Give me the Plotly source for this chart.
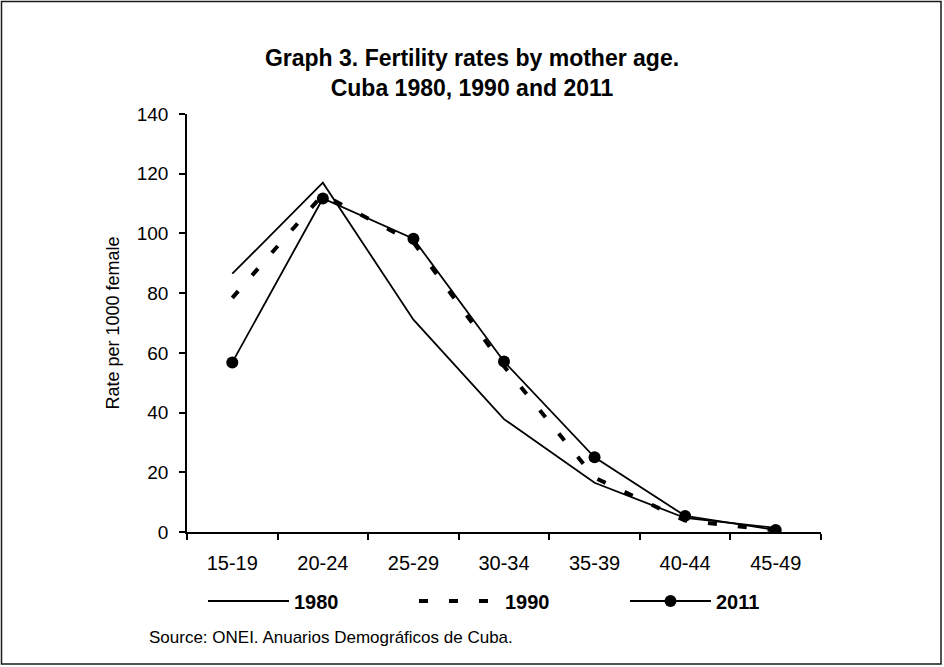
import plotly.graph_objects as go

age_groups = ["15-19", "20-24", "25-29", "30-34", "35-39", "40-44", "45-49"]
rates_1980 = [86.5, 117.0, 71.1, 37.8, 16.5, 4.7, 1.4]
rates_1990 = [78.4, 113.0, 97.0, 55.5, 18.2, 3.8, 0.5]
rates_2011 = [56.8, 111.7, 98.2, 57.1, 25.0, 5.4, 0.7]
y_ticks = [0, 20, 40, 60, 80, 100, 120, 140]

W, H = 944, 667
L, R, T, B = 187, 123, 114, 135
pw, ph = W - L - R, H - T - B

def px(x):
    return (x - L) / pw

def py(y):
    return (H - B - y) / ph

fig = go.Figure()
fig.add_trace(go.Scatter(x=age_groups, y=rates_1980, name="1980", mode="lines",
                         line=dict(color="black", width=1.8)))
fig.add_trace(go.Scatter(x=age_groups, y=rates_1990, name="1990", mode="lines",
                         line=dict(color="black", width=4, dash="9px,21px")))
fig.add_trace(go.Scatter(x=age_groups, y=rates_2011, name="2011", mode="lines+markers",
                         line=dict(color="black", width=1.8),
                         marker=dict(color="black", size=12)))

font = "Liberation Sans, Arial, sans-serif"
fig.update_layout(
    width=W, height=H,
    margin=dict(l=L, r=R, t=T, b=B),
    paper_bgcolor="white", plot_bgcolor="white",
    font=dict(family=font, color="black", size=19),
    title=dict(text="<b>Graph 3. Fertility rates by mother age.<br>Cuba 1980, 1990 and 2011</b>",
               x=0.5, xanchor="center", y=1 - 66 / H, yanchor="middle",
               font=dict(size=23, family=font, color="black")),
    showlegend=True,
    legend=dict(orientation="h", x=px(203), xanchor="left", y=py(601), yanchor="middle",
                font=dict(size=20, family=font, color="black", weight="bold"),
                itemwidth=81, bgcolor="rgba(0,0,0,0)", traceorder="normal",
                entrywidth=115),
    xaxis=dict(type="category", tickson="boundaries", ticks="outside", ticklen=6,
               tickwidth=1.5, tickcolor="black", showline=True, linecolor="black",
               linewidth=1.5, showgrid=False, zeroline=False, ticklabelstandoff=12,
               range=[-0.5, 6.5], tickfont=dict(size=20, family=font)),
    yaxis=dict(range=[0, 140], tickvals=y_ticks, ticks="outside", ticklen=6,
               tickwidth=1.5, tickcolor="black", showline=True, linecolor="black",
               linewidth=1.5, showgrid=False, zeroline=False, ticklabelstandoff=7,
               title=dict(text="Rate per 1000 female", font=dict(size=18, family=font),
                          standoff=12),
               tickfont=dict(size=19, family=font)),
)

fig.add_annotation(text="Source: ONEI. Anuarios Demográficos de Cuba.",
                   xref="paper", yref="paper", x=px(147), y=py(637),
                   xanchor="left", yanchor="middle", showarrow=False,
                   font=dict(size=17, family=font, color="black"))

fig.add_shape(type="rect", xref="paper", yref="paper",
              x0=px(1.5), x1=px(941), y0=py(664), y1=py(1.5),
              line=dict(color="#1a1a1a", width=1.5), fillcolor="rgba(0,0,0,0)",
              layer="below")

fig.write_html("out.html", post_script="document.body.style.margin='0';",
               config={"displayModeBar": False})
